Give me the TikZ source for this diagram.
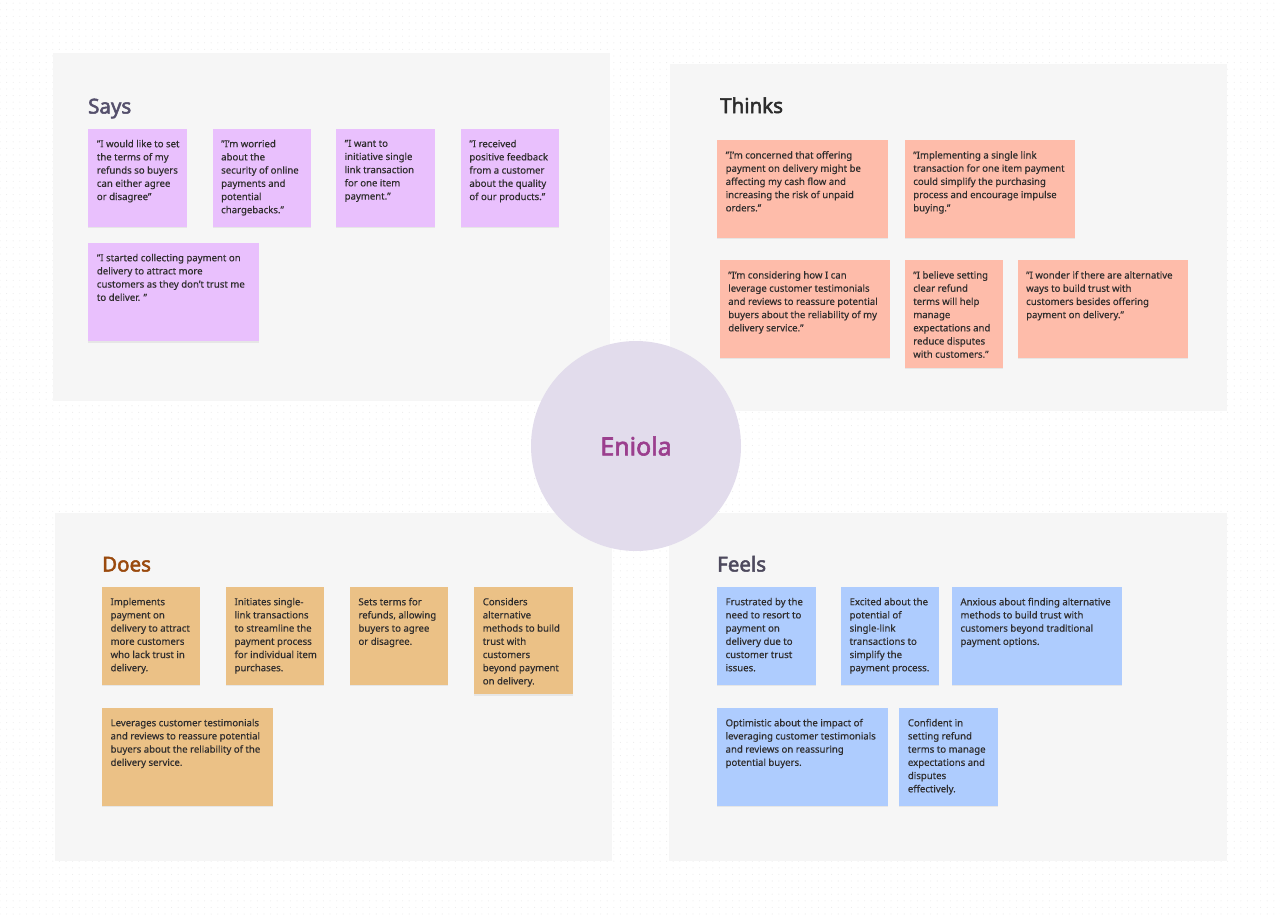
\documentclass[tikz,border=0pt]{standalone}
\usepackage{fontspec}
\setmainfont{Noto Sans}[FakeBold=0.35]
\newfontfamily\headfont{Noto Sans}[FakeBold=2.4]
\usetikzlibrary{shadows,patterns.meta}
\definecolor{panelbg}{HTML}{F6F6F6}
\definecolor{saysc}{HTML}{E9C0FD}
\definecolor{thinksc}{HTML}{FEBCAA}
\definecolor{doesc}{HTML}{EBC186}
\definecolor{feelsc}{HTML}{AECCFE}
\definecolor{circc}{HTML}{E2DCEC}
\definecolor{enic}{HTML}{9B3F8E}
\definecolor{txtc}{HTML}{2F2D2D}
\definecolor{saystitle}{HTML}{55506C}
\definecolor{thinkstitle}{HTML}{2C2C2C}
\definecolor{doestitle}{HTML}{9A4A0E}
\definecolor{feelstitle}{HTML}{4E4A5E}
\definecolor{dotc}{HTML}{ECECEC}
\tikzdeclarepattern{
  name=bgdots,
  type=uncolored,
  bottom left={(-3.3pt,-3.3pt)},
  top right={(3.3pt,3.3pt)},
  tile size={(6.6pt,6.6pt)},
  code={\fill (0pt,0pt) circle (0.55pt);}
}
\tikzset{
  panelbox/.style={fill=panelbg,draw=none},
  stickybox/.style={draw=none,rectangle,inner sep=0pt,anchor=north west,
    drop shadow={shadow xshift=0pt,shadow yshift=-1.5pt,opacity=0.13}},
  stickytext/.style={inner sep=0pt,align=left,anchor=north west,text=txtc,
    font=\fontsize{9.6}{13.2}\selectfont},
  paneltitle/.style={inner sep=0pt,anchor=base west,font=\headfont\fontsize{20.5}{24}\selectfont}
}
\newcommand{\sticky}[7]{%
  \node[stickybox,fill=#2,minimum width=#5pt,minimum height=#6pt] (#1) at (#3,#4) {};
  \node[stickytext] (#1t) at ([xshift=8.5pt,yshift=-11pt]#1.north west) {#7};
}
\begin{document}
\begin{tikzpicture}[x=1pt,y=-1pt]
\useasboundingbox (0,0) rectangle (1280,914);
\fill[white] (0,0) rectangle (1280,914);
\fill[pattern=bgdots,pattern color=dotc] (0,0) rectangle (1280,914);
% panels
\path[panelbox] (53,53) rectangle (610,401);
\path[panelbox] (670,64) rectangle (1227,411);
\path[panelbox] (55,513) rectangle (612,861);
\path[panelbox] (669,513) rectangle (1227,861);
% titles
\node[paneltitle,text=saystitle] (says) at (88,113.5) {Says};
\node[paneltitle,text=thinkstitle] (thinks) at (720,113) {Thinks};
\node[paneltitle,text=doestitle] (does) at (102,571.5) {Does};
\node[paneltitle,text=feelstitle] (feels) at (717,571.5) {Feels};
% Says
\sticky{s1}{saysc}{88.2}{128.7}{98.6}{98}{"I would like to set\\the terms of my\\refunds so buyers\\can either agree\\or disagree"}
\sticky{s2}{saysc}{212.5}{128.7}{98.2}{98}{"I'm worried\\about the\\security of online\\payments and\\potential\\chargebacks."}
\sticky{s3}{saysc}{336}{128.7}{98.3}{98}{"I want to\\initiative single\\link transaction\\for one item\\payment."}
\sticky{s4}{saysc}{460.7}{128.7}{98.3}{98}{"I received\\positive feedback\\from a customer\\about the quality\\of our products."}
\sticky{s5}{saysc}{88.2}{242.7}{170.8}{98.3}{"I started collecting payment on\\delivery to attract more\\customers as they don’t trust me\\to deliver. "}
% Thinks
\sticky{t1}{thinksc}{717}{140}{170.5}{97.7}{"I'm concerned that offering\\payment on delivery might be\\affecting my cash flow and\\increasing the risk of unpaid\\orders."}
\sticky{t2}{thinksc}{904.6}{140}{170.4}{97.7}{"Implementing a single link\\transaction for one item payment\\could simplify the purchasing\\process and encourage impulse\\buying."}
\sticky{t3}{thinksc}{719.6}{260}{170.4}{97.3}{"I'm considering how I can\\leverage customer testimonials\\and reviews to reassure potential\\buyers about the reliability of my\\delivery service."}
\sticky{t4}{thinksc}{904.6}{260}{98.3}{107.3}{"I believe setting\\clear refund\\terms will help\\manage\\expectations and\\reduce disputes\\with customers."}
\sticky{t5}{thinksc}{1017.5}{260}{170}{97.3}{"I wonder if there are alternative\\ways to build trust with\\customers besides offering\\payment on delivery."}
% Does
\sticky{d1}{doesc}{101.9}{586.7}{98}{97.6}{Implements\\payment on\\delivery to attract\\more customers\\who lack trust in\\delivery.}
\sticky{d2}{doesc}{225.9}{586.7}{98}{97.6}{Initiates single-\\link transactions\\to streamline the\\payment process\\for individual item\\purchases.}
\sticky{d3}{doesc}{349.8}{586.7}{98.4}{97.6}{Sets terms for\\refunds, allowing\\buyers to agree\\or disagree.}
\sticky{d4}{doesc}{474.1}{586.7}{98.4}{107.3}{Considers\\alternative\\methods to build\\trust with\\customers\\beyond payment\\on delivery.}
\sticky{d5}{doesc}{101.9}{707.7}{170.4}{98}{Leverages customer testimonials\\and reviews to reassure potential\\buyers about the reliability of the\\delivery service.}
% Feels
\sticky{f1}{feelsc}{716.9}{586.7}{98.7}{97.6}{Frustrated by the\\need to resort to\\payment on\\delivery due to\\customer trust\\issues.}
\sticky{f2}{feelsc}{840.9}{586.7}{98}{97.6}{Excited about the\\potential of\\single-link\\transactions to\\simplify the\\payment process.}
\sticky{f3}{feelsc}{951.8}{586.7}{170.2}{97.6}{Anxious about finding alternative\\methods to build trust with\\customers beyond traditional\\payment options.}
\sticky{f4}{feelsc}{716.9}{707.7}{170.8}{98}{Optimistic about the impact of\\leveraging customer testimonials\\and reviews on reassuring\\potential buyers.}
\sticky{f5}{feelsc}{899.2}{707.7}{98.1}{98}{Confident in\\setting refund\\terms to manage\\expectations and\\disputes\\effectively.}
% center
\node[circle,fill=circc,minimum size=210pt,inner sep=0pt,text=enic,
  font=\headfont\fontsize{25}{30}\selectfont] (eniola) at (636,446) {Eniola};
\end{tikzpicture}
\end{document}
